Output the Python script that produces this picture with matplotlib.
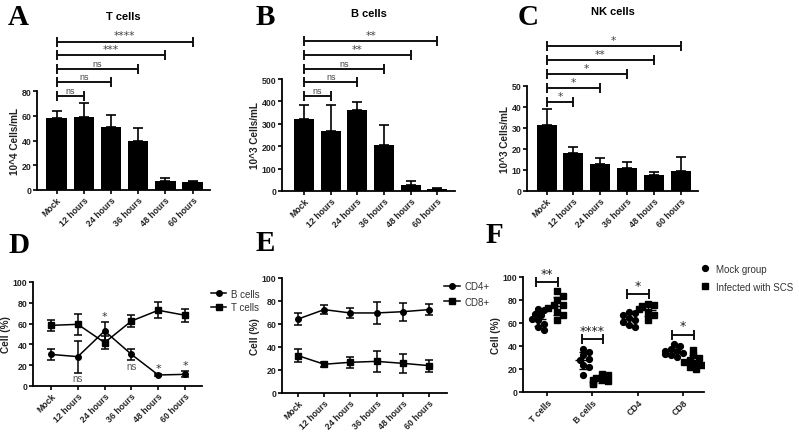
import matplotlib
matplotlib.use('Agg')
import matplotlib.pyplot as plt
import numpy as np

plt.rcParams['font.family'] = ['Liberation Sans', 'DejaVu Sans']

# ---------------- data ----------------
time_labels = ['Mock', '12 hours', '24 hours', '36 hours', '48 hours', '60 hours']

t_cells_mean = [58.1, 59.2, 50.7, 40.0, 7.5, 6.7]
t_cells_err = [5.4, 11.5, 9.8, 9.9, 2.6, 0.8]
b_cells_mean = [320, 268, 360, 204, 27, 9]
b_cells_err = [62, 114, 36, 89, 16, 3]
nk_cells_mean = [31.6, 18.3, 12.7, 10.8, 7.6, 9.4]
nk_cells_err = [7.3, 2.5, 3.2, 3.2, 1.4, 6.6]

sig_t = ['ns', 'ns', 'ns', '***', '****']
sig_b = ['ns', 'ns', 'ns', '**', '**']
sig_nk = ['*', '*', '*', '**', '*']

d_b_pct = [30.4, 28.2, 52.9, 30.4, 10.6, 11.2]
d_b_err = [5.0, 15.5, 9.0, 5.5, 1.0, 3.0]
d_t_pct = [58.3, 59.3, 41.7, 62.5, 72.8, 68.0]
d_t_err = [5.0, 10.0, 6.0, 6.0, 7.5, 6.0]
d_marks = [None, ('ns', 'below'), ('*', 'top'), ('ns', 'below'), ('*', 'above'), ('*', 'above')]

e_cd4 = [64.3, 72.5, 69.6, 69.6, 70.7, 72.5]
e_cd4_err = [5.5, 4.0, 4.5, 9.7, 7.7, 4.6]
e_cd8 = [32.5, 25.0, 26.7, 27.5, 25.8, 23.8]
e_cd8_err = [5.5, 2.0, 4.8, 9.4, 8.3, 5.2]

f_categories = ['T cells', 'B cells', 'CD4', 'CD8']
f_mock = [
    [72.5, 71.0, 68.0, 66.7, 63.8, 62.3, 59.4, 56.5, 53.6],
    [37.7, 34.8, 32.0, 29.0, 27.5, 23.2, 21.7, 14.5],
    [70.0, 69.0, 66.7, 64.3, 62.3, 60.9, 58.5, 56.5],
    [42.0, 40.0, 37.7, 35.4, 33.3, 31.9, 30.4, 36.0, 34.0],
]
f_infected = [
    [87.5, 83.5, 79.7, 75.4, 73.0, 70.0, 66.7, 62.3, 76.0],
    [16.0, 14.5, 12.0, 10.7, 9.3, 8.1, 7.2, 11.0],
    [76.8, 74.8, 72.5, 70.0, 66.7, 62.3, 75.5],
    [36.8, 31.9, 29.6, 27.5, 25.5, 23.8, 21.7, 20.3, 26.0],
]
f_sig = ['**', '****', '*', '*']

# ---------------- style helpers ----------------
W, H = 799, 435
fig = plt.figure(figsize=(W / 100, H / 100), dpi=100)
STAR_FONT = ['DejaVu Sans']


def add_axes(x0, x1, ytop, ybot):
    return fig.add_axes([x0 / W, 1 - ybot / H, (x1 - x0) / W, (ybot - ytop) / H])


def style(ax, ylabel, ymax, ystep):
    for s in ['top', 'right']:
        ax.spines[s].set_visible(False)
    for s in ['left', 'bottom']:
        ax.spines[s].set_linewidth(1.3)
    ax.set_ylim(0, ymax)
    ax.set_yticks(np.arange(0, ymax + ystep / 2, ystep))
    ax.tick_params(direction='out', length=3, width=1.2, labelsize=6.3, pad=1,
                   labelcolor='#222222')
    for lab in ax.get_yticklabels():
        lab.set_fontweight('bold')
    ax.set_ylabel(ylabel, fontsize=7.2, fontweight='bold', labelpad=1, color='#222222')


def xlabels(ax, labels):
    ax.set_xticks(range(len(labels)))
    ax.set_xticklabels(labels, rotation=45, ha='right', rotation_mode='anchor',
                       fontsize=6.3, fontweight='bold', color='#222222')


def letter(x, y, s):
    fig.text(x / W, 1 - y / H, s, fontsize=21, fontweight='bold',
             family='Liberation Serif', va='top', ha='left')


def sig_text(ax, s, xy, off, va, color, size=None):
    star = s.startswith('*')
    ax.annotate(s, xy=xy, xytext=(0, off), textcoords='offset points',
                ha='center', va=va, fontsize=size or (7.8 if star else 6.5), color=color,
                family=STAR_FONT if star else None, annotation_clip=False)


def bar_panel(ax, means, errs, sigs, y0, dy):
    x = np.arange(len(means))
    ax.bar(x, means, width=0.75, color='black', zorder=2)
    ax.errorbar(x, means, yerr=[np.zeros(len(errs)), errs], fmt='none', ecolor='black',
                elinewidth=1.2, capsize=3.8, capthick=1.2, zorder=1)
    for k, lab in enumerate(sigs):
        y = y0 + dy * k
        ax.plot([0, k + 1], [y, y], color='#111111', lw=1.4, marker='|', ms=7, mew=1.4,
                clip_on=False)
        sig_text(ax, lab, ((k + 1) / 2, y), 0.8, 'bottom', '#444444')


# ---------------- A ----------------
axA = add_axes(37, 210, 92, 191)
bar_panel(axA, t_cells_mean, t_cells_err, sig_t, 76, 11)
style(axA, '10^4 Cells/mL', 80, 20)
xlabels(axA, time_labels)
axA.set_xlim(-0.72, 5.64)
fig.text((37 + 210) / 2 / W, 1 - 17 / H, 'T cells', fontsize=8, fontweight='bold', ha='center', va='center')
letter(8, 4, 'A')

# ---------------- B ----------------
axB = add_axes(282, 455, 80, 192)
bar_panel(axB, b_cells_mean, b_cells_err, sig_b, 424, 61)
style(axB, '10^3 Cells/mL', 500, 100)
xlabels(axB, time_labels)
axB.set_xlim(-0.83, 5.66)
fig.text((282 + 455) / 2 / W, 1 - 14 / H, 'B cells', fontsize=8, fontweight='bold', ha='center', va='center')
letter(256, 4, 'B')

# ---------------- C ----------------
axC = add_axes(527, 698, 87, 192)
bar_panel(axC, nk_cells_mean, nk_cells_err, sig_nk, 42.4, 6.7)
style(axC, '10^3 Cells/mL', 50, 10)
xlabels(axC, time_labels)
axC.set_xlim(-0.73, 5.65)
fig.text((527 + 698) / 2 / W, 1 - 12 / H, 'NK cells', fontsize=8, fontweight='bold', ha='center', va='center')
letter(518, 4, 'C')

# ---------------- D ----------------
axD = add_axes(33, 202, 283, 387)
xd = np.arange(len(time_labels))
axD.errorbar(xd, d_b_pct, yerr=d_b_err, fmt='none', ecolor='black', elinewidth=1.1, capsize=2.8, capthick=1.1)
axD.errorbar(xd, d_t_pct, yerr=d_t_err, fmt='none', ecolor='black', elinewidth=1.1, capsize=2.8, capthick=1.1)
axD.plot(xd, d_b_pct, '-o', color='black', ms=4, lw=1.1, label='B cells')
axD.plot(xd, d_t_pct, '-s', color='black', ms=4, lw=1.1, label='T cells')
for i, m in enumerate(d_marks):
    if m is None:
        continue
    lab, where = m
    if where == 'top':
        yv = max(d_b_pct[i] + d_b_err[i], d_t_pct[i] + d_t_err[i])
        sig_text(axD, lab, (i, yv), 0.5, 'bottom', '#333333', 8)
    elif where == 'above':
        yv = d_b_pct[i] + d_b_err[i]
        sig_text(axD, lab, (i, yv), 1.0, 'bottom', '#333333', 8)
    else:
        yv = d_b_pct[i] - d_b_err[i]
        sig_text(axD, lab, (i, yv), -0.5, 'top', '#555555', 7)
style(axD, 'Cell (%)', 100, 20)
xlabels(axD, time_labels)
axD.set_xlim(-0.67, 5.63)
axD.legend(loc='upper left', bbox_to_anchor=(1.0, 1.02), frameon=False, fontsize=7,
           handlelength=1.6, handletextpad=0.5, labelspacing=0.35, labelcolor='#333333')
letter(8, 232, 'D')

# ---------------- E ----------------
axE = add_axes(282, 447, 279, 394)
xe = np.arange(len(time_labels))
axE.errorbar(xe, e_cd4, yerr=e_cd4_err, fmt='none', ecolor='black', elinewidth=1.1, capsize=2.8, capthick=1.1)
axE.errorbar(xe, e_cd8, yerr=e_cd8_err, fmt='none', ecolor='black', elinewidth=1.1, capsize=2.8, capthick=1.1)
axE.plot(xe, e_cd4, '-o', color='black', ms=4, lw=1.1, label='CD4+')
axE.plot(xe, e_cd8, '-s', color='black', ms=4, lw=1.1, label='CD8+')
style(axE, 'Cell (%)', 100, 20)
xlabels(axE, time_labels)
axE.set_xlim(-0.61, 5.69)
axE.legend(loc='upper left', bbox_to_anchor=(0.93, 1.05), frameon=False, fontsize=7,
           handlelength=1.6, handletextpad=0.5, labelspacing=0.6, labelcolor='#333333')
letter(256, 230, 'E')

# ---------------- F ----------------
axF = add_axes(523, 704, 278, 393)
px_per_x = 45.3
px_per_y = 115 / 100.0
diam = 5.5


def swarm(vals):
    order = np.argsort(vals)[::-1]
    placed = []
    offs = np.zeros(len(vals))
    for idx in order:
        yv = vals[idx] * px_per_y
        for cand in [0, 3, -3, 6, -6, 9, -9]:
            ok = all((cand - ox) ** 2 + (yv - oy) ** 2 >= diam ** 2 for ox, oy in placed)
            if ok:
                break
        placed.append((cand, yv))
        offs[idx] = cand / px_per_x
    return offs


for i in range(len(f_categories)):
    for grp, off, mk in [(f_mock[i], -0.2, 'o'), (f_infected[i], 0.22, 's')]:
        vals = np.array(grp)
        xs = i + off + swarm(vals)
        axF.plot(xs, vals, mk, color='black', ms=4.2, ls='none')
        mean, sd = vals.mean(), vals.std(ddof=1)
        axF.errorbar([i + off], [mean], yerr=[sd], fmt='_', color='black', ms=11, mew=1.0,
                     elinewidth=1.0, capsize=3, capthick=1.0)
    top = max(max(f_mock[i]), max(f_infected[i]))
    yb = top + 8
    axF.plot([i - 0.24, i + 0.24], [yb, yb], color='#111111', lw=1.4, marker='|', ms=7, mew=1.4,
             clip_on=False)
    sig_text(axF, f_sig[i], (i, yb), 1.5, 'bottom', '#222222', 9)

style(axF, 'Cell (%)', 100, 20)
xlabels(axF, f_categories)
axF.set_xlim(-0.53, 3.46)
hm, = axF.plot([], [], 'o', color='black', ms=4.2, label='Mock group')
hi, = axF.plot([], [], 's', color='black', ms=4.2, label='Infected with SCS')
axF.legend(handles=[hm, hi], loc='upper left', bbox_to_anchor=(0.93, 1.19), frameon=False, fontsize=7,
           handlelength=1.0, handletextpad=0.6, labelspacing=0.8, labelcolor='#333333')
letter(486, 222, 'F')

fig.savefig('out.png', dpi=100)
